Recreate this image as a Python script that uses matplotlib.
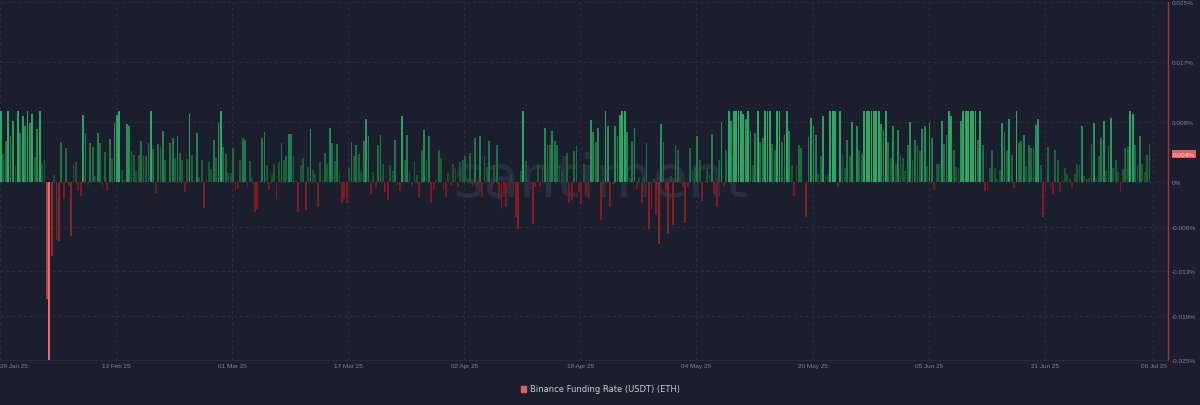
import numpy as np
import matplotlib
matplotlib.use("Agg")
import matplotlib.pyplot as plt
import matplotlib.dates as mdates
import matplotlib.transforms as mtransforms
from matplotlib.patches import Rectangle
import pandas as pd

# ---------------- data ----------------
series_name = "Binance Funding Rate (USDT) (ETH)"
start_time = "2025-01-28 00:00"
interval = "8h"

# funding rate in thousandths of a percent (0.001 %), one value every 8 hours
funding_milli_pct = [
    # 0-18
    10.0, 4.0, 5.9, 10.0, 6.6, 8.7, 2.3, 10.0, 7.0, 9.4, 8.0, 10.0, 8.3, 9.6, 3.6, 7.5, 10.0, 2.6, 3.2,
    # 19-82
    -16.4, -25.0, -10.4, 1.0, -8.1, -8.2, 5.7, -2.3, 4.9, -0.5,
    -7.6, 2.4, 2.9, -1.2, -1.9, 9.5, 6.9, -0.3, 5.5, 5.0,
    0.9, 7.0, 5.6, -0.6, 4.3, -1.2, 6.1, 3.3, 8.3, 9.5,
    10.0, 1.7, 0.3, 8.2, 7.9, 4.4, 3.8, 1.6, 3.8, 5.9,
    3.7, 3.7, 5.6, 10.0, 4.7, -1.5, 5.4, 5.0, 7.2, 3.1,
    -0.1, 5.6, 6.3, 3.5, 6.6, 4.2, 3.2, -1.4, 3.3, 9.6,
    3.9, 0.2, 7.0, 0.8,
    # 83-121
    3.1, -3.6, 0.5, 2.9, 1.9, 6.0, 3.4, 8.4, 10.0, 5.0,
    4.0, 1.3, 1.3, 4.8, -1.0, -0.9, 3.1, 6.2, 6.0, -0.7,
    3.0, 0.6, -4.2, -3.7, 0.2, 6.3, 7.1, 2.5, -1.0, 1.1,
    2.6, -2.4, 2.9, 5.6, 3.1, 3.7, 6.8, 6.8, 3.7,
    # 122-181
    0.3, -4.2, 2.5, 3.4, -3.9, 2.2, 7.5, 1.7, 1.2, -3.4,
    2.9, 0.4, 4.2, 2.6, 7.6, 5.6, 3.0, 5.4, 1.3, -2.9,
    -2.3, -2.9, 2.1, 5.7, 3.7, 5.3, 4.0, 1.4, 5.9, 8.9,
    6.6, -1.7, 1.5, -0.8, 5.2, 6.7, 2.6, -1.4, -2.5, 2.5,
    1.6, 6.0, -0.3, -1.2, 9.4, 3.1, 6.7, 1.4, -0.5, 3.0,
    1.1, -2.2, 4.5, 7.4, 3.1, 6.5, -2.9, -1.1, 0.3, 4.5,
    # 182-241
    3.5, -1.1, -2.0, 1.3, -0.3, 2.6, 2.0, -0.6, 2.9, 3.2,
    3.7, 0.5, 4.2, -0.6, 6.3, -0.6, 6.6, -2.1, 3.7, 2.2,
    5.9, -0.8, 2.5, 5.3, -2.3, -3.7, -1.5, -3.4, -0.5, 1.2,
    -1.4, -4.8, -6.5, 1.6, 10.0, 3.0, 0.3, -0.9, -5.8, -0.6,
    2.5, -0.6, 2.5, 7.6, 5.2, 5.2, 7.3, 5.8, 5.3, 2.5,
    1.7, 0.3, 4.2, -2.9, -2.5, 4.4, 5.1, -1.4, -3.1, 2.6,
    # 242-301
    -1.5, -2.3, 8.8, 7.1, 5.7, 7.6, -5.3, -0.2, 10.0, 7.9,
    -3.5, -0.2, 8.0, 6.6, 9.5, 10.0, 10.0, 7.1, 0.6, 5.9,
    7.7, -0.9, 0.8, -2.9, 0.8, 5.6, -6.6, -3.8, 0.5, -4.6,
    -8.6, 8.2, 5.7, -1.25, -7.3, 0.9, -6.0, 5.3, 4.5, 0.8,
    -0.6, -5.7, -0.6, 4.9, 1.6, 2.1, 6.6, 3.1, -2.6, 0.2,
    2.0, 1.2, 6.8, -1.7, -3.5, 3.2, 8.5, -0.6, 4.5, 10.0,
    # 302-360
    8.7, 10.0, 10.0, 10.0, 10.0, 9.6, 8.9, 10.0, 7.3, 2.5,
    6.9, 10.0, 5.7, 6.2, 10.0, 10.0, 10.0, 5.4, 4.6, 10.0,
    10.0, 5.7, 6.7, 10.0, 7.2, 2.5, -1.9, 2.3, 5.2, 4.9,
    0.1, -4.9, 6.4, 9.1, 8.0, 6.7, 1.2, 3.7, 9.3, 0.7,
    1.2, 10.0, 10.0, 10.0, -0.7, 10.0, 3.9, 2.1, 6.0, 3.7,
    8.5, 0.3, 8.0, 4.6, 4.0, 10.0, 10.0, 10.0, 10.0,
    # 361-420
    10.0, 10.0, 10.0, 8.2, 7.4, 10.0, 5.7, 3.4, 7.9, 2.6,
    7.4, 3.9, 3.4, 1.6, 5.3, 8.5, 3.2, 6.0, 5.3, 4.4,
    7.5, 7.9, 2.3, 8.3, 6.3, -1.1, 2.6, 2.6, 8.7, 5.4,
    6.7, 10.0, 9.4, 4.6, 2.2, 2.0, 8.6, 10.0, 10.0, 10.0,
    10.0, 10.0, 10.0, 6.0, 10.0, 5.3, -1.25, -0.9, 2.1, 4.5,
    2.0, 0.5, 1.7, 8.3, 7.1, 4.5, 8.9, 3.9, -0.8, 10.0,
    # 421-475
    5.6, 5.9, 6.7, 2.3, 5.3, 4.8, 4.8, 8.1, 8.9, 2.5,
    -4.9, -1.25, 5.0, -0.7, -1.7, 4.6, 3.2, -1.4, 0.3, 2.1,
    1.2, 0.5, -0.8, 1.2, 2.6, 2.5, 8.0, 0.9, 0.5, 0.6,
    5.4, 8.3, 0.6, 3.7, 6.2, 8.7, 1.6, 5.1, 9.0, 2.1,
    3.1, 1.5, -1.4, 1.9, 4.9, 5.0, 10.0, 9.7, 5.2, 2.5,
    6.5, 2.6, 1.4, 3.9, 5.4,
]

x_tick_dates = ["2025-01-28", "2025-02-13", "2025-03-01", "2025-03-17", "2025-04-02",
                "2025-04-18", "2025-05-04", "2025-05-20", "2025-06-05", "2025-06-21",
                "2025-07-06"]
x_tick_labels = ["28 Jan 25", "13 Feb 25", "01 Mar 25", "17 Mar 25", "02 Apr 25",
                 "18 Apr 25", "04 May 25", "20 May 25", "05 Jun 25", "21 Jun 25",
                 "06 Jul 25"]

y_tick_values = [0.0254, 0.01693, 0.00847, 0.0, -0.00625, -0.0125, -0.01875, -0.025]
y_tick_labels = ["0.025%", "0.017%", "0.008%", "0%", "-0.006%", "-0.013%", "-0.019%", "-0.025%"]

latest_marker_value = 0.0040
latest_marker_label = "0.004%"

# ---------------- style ----------------
BG = "#1b1e2d"
GRID = "#2a2e40"
TICK = "#7f8496"
AXIS_RED = "#a3363b"
SMALL_FONT = ["Liberation Sans", "DejaVu Sans"]

rates = np.array(funding_milli_pct) / 1000.0
times = pd.date_range(start_time, periods=len(rates), freq=interval)
xnum = mdates.date2num(times.to_pydatetime())


def mix(c0, c1, t):
    a = np.array(matplotlib.colors.to_rgb(c0))
    b = np.array(matplotlib.colors.to_rgb(c1))
    return matplotlib.colors.to_hex(np.clip(a + (b - a) * t, 0, 1))


def bar_color(v):
    if v >= 0:
        t = min(v / 0.010, 1.0) ** 1.6
        return mix("#174f30", "#2aa865", t)
    t = min(-v / 0.025, 1.0) ** 1.8
    return mix("#7a191d", "#e86a6a", t)


colors = [bar_color(v) for v in rates]

W, H = 1200, 406
fig = plt.figure(figsize=(W / 100, H / 100), dpi=100, facecolor=BG)
ax = fig.add_axes([0.0, 1 - 361 / H, 1168 / W, 358 / H], facecolor=BG)

x0 = mdates.date2num(pd.Timestamp(x_tick_dates[0]).to_pydatetime())
ax.set_xlim(x0, x0 + 161.0)
ax.set_ylim(-0.0250, 0.0254)

# grid
for yv in y_tick_values:
    ax.axhline(yv, color=GRID, lw=0.7, ls=(0, (3, 3)), zorder=0)
xt = [mdates.date2num(pd.Timestamp(d).to_pydatetime()) for d in x_tick_dates]
for xv in xt:
    ax.axvline(xv, color=GRID, lw=0.7, ls=(0, (3, 3)), zorder=0)

# watermark
ax.text(0.515, 0.505, "santiment", transform=ax.transAxes, fontsize=42,
        color="#2a2e41", ha="center", va="center", zorder=1, family="DejaVu Sans")

ax.bar(xnum, rates, width=0.25, align="edge", color=colors, linewidth=0, zorder=2)

# spines
for s in ["top", "left"]:
    ax.spines[s].set_visible(False)
ax.spines["bottom"].set_color(GRID)
ax.spines["bottom"].set_linewidth(0.6)
ax.spines["right"].set_color(AXIS_RED)
ax.spines["right"].set_linewidth(1.0)

# ticks
ax.yaxis.tick_right()
ax.set_yticks(y_tick_values)
ax.set_yticklabels(y_tick_labels, family=SMALL_FONT)
ax.tick_params(axis="y", length=0, pad=3, labelsize=4.6, labelcolor=TICK)
ax.set_xticks(xt)
ax.set_xticklabels(x_tick_labels, family=SMALL_FONT)
ax.tick_params(axis="x", length=0, pad=2.5, labelsize=4.6, labelcolor=TICK)
ax.get_xticklabels()[0].set_horizontalalignment("left")

# latest value marker
trans = mtransforms.blended_transform_factory(ax.transAxes, ax.transData)
ax.text(1.0 + 5 / 1168, latest_marker_value, latest_marker_label, transform=trans,
        fontsize=4.6, color="#ffe0e0", ha="left", va="center", clip_on=False,
        family=SMALL_FONT,
        bbox=dict(boxstyle="square,pad=0.22", fc="#e25f5f", ec="none"))

# legend
fig.patches.append(Rectangle((521 / W, 1 - 393 / H), 5 / W, 6 / H,
                             transform=fig.transFigure, color="#e25f5f"))
fig.text(530 / W, 1 - 390 / H, series_name, fontsize=6, color="#c9ccd6",
         ha="left", va="center")

fig.savefig("out.png", dpi=100, facecolor=BG)
